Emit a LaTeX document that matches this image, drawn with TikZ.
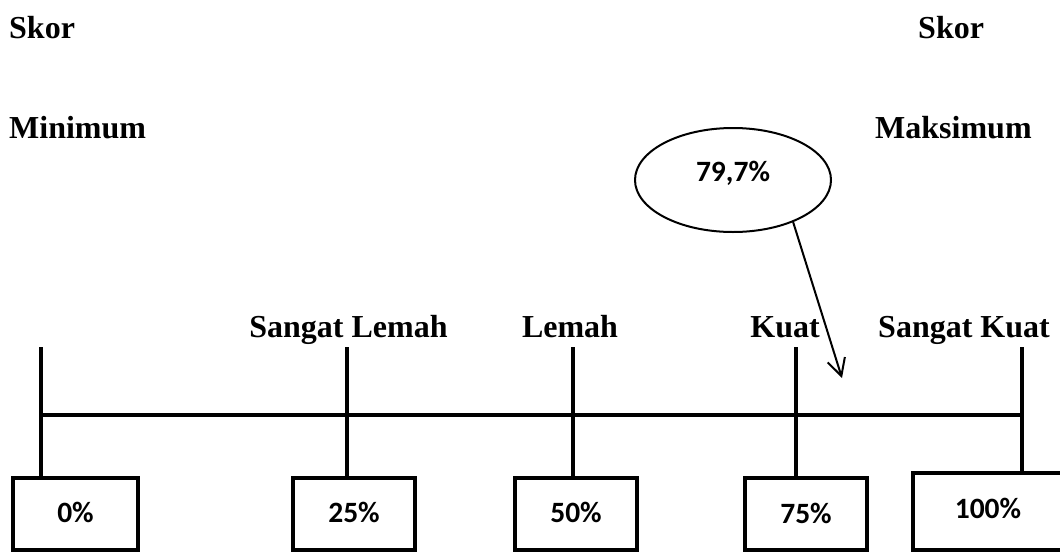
\documentclass[tikz,border=0pt]{standalone}
\usepackage{fontspec}
\setmainfont{Liberation Serif}
\newfontfamily\boxfont{Carlito}
\usetikzlibrary{arrows.meta,shapes.geometric}
\tikzset{
  heading/.style={font=\fontsize{32}{38}\selectfont\bfseries, inner sep=0pt},
  thick line/.style={line width=4pt},
  pctfont/.style={font=\boxfont\fontsize{29.5}{34}\selectfont\bfseries},
  pctbox/.style={draw, line width=4pt, rectangle, minimum height=72pt, minimum width=122pt, inner sep=0pt, pctfont},
  bubble/.style={draw, ellipse, line width=2pt, minimum width=196pt, minimum height=104pt, inner sep=0pt},
  pointer/.style={line width=2pt, -{Straight Barb[length=17pt,width=18pt,line width=2pt]}}
}
\begin{document}
\begin{tikzpicture}[x=1pt,y=-1pt]
\useasboundingbox (0,0) rectangle (1060,552);
\clip (0,0) rectangle (1060,552);
% headings
\node[heading, anchor=base west] (skor1) at (9,38) {Skor};
\node[heading, anchor=base west] (min) at (9,138) {Minimum};
\node[heading, anchor=base west] (skor2) at (918,38) {Skor};
\node[heading, anchor=base west] (max) at (875,138) {Maksimum};
% category labels
\node[heading, anchor=base] (l1) at (348.5,337) {Sangat Lemah};
\node[heading, anchor=base] (l2) at (570,337) {Lemah};
\node[heading, anchor=base east] (l3) at (820,337) {Kuat};
\node[heading, anchor=base east] (l4) at (1050,337) {Sangat Kuat};
% tick tops
\coordinate (t0) at (41,347);
\coordinate (t1) at (347,347);
\coordinate (t2) at (573,347);
\coordinate (t3) at (796,347);
\coordinate (t4) at (1022,347);
% boxes
\node[pctbox, minimum width=125pt] (b0) at (75.5,514) {\raisebox{3pt}{0\%}};
\node[pctbox] (b1) at (354,514) {\raisebox{3pt}{25\%}};
\node[pctbox] (b2) at (576,514) {\raisebox{3pt}{50\%}};
\node[pctbox] (b3) at (806,514) {\raisebox{2pt}{75\%}};
\node[pctbox, minimum width=150pt, minimum height=77pt] (b4) at (988,511.5) {\raisebox{7pt}{100\%}};
% axis
\coordinate (a0) at (41,415);
\coordinate (a4) at (1022,415);
\draw[thick line] (a0) -- (a4);
\draw[thick line] (t0) -- (t0 |- b0.north);
\draw[thick line] (t1) -- (t1 |- b1.north);
\draw[thick line] (t2) -- (t2 |- b2.north);
\draw[thick line] (t3) -- (t3 |- b3.north);
\draw[thick line] (t4) -- (t4 |- b4.north);
% bubble and pointer
\node[bubble] (ell) at (733,180) {};
\node[pctfont, inner sep=0pt] (val) at (733,173) {79,7\%};
\coordinate (tip) at (842,378);
\draw[pointer] (ell.-35) -- (tip);
\end{tikzpicture}
\end{document}
